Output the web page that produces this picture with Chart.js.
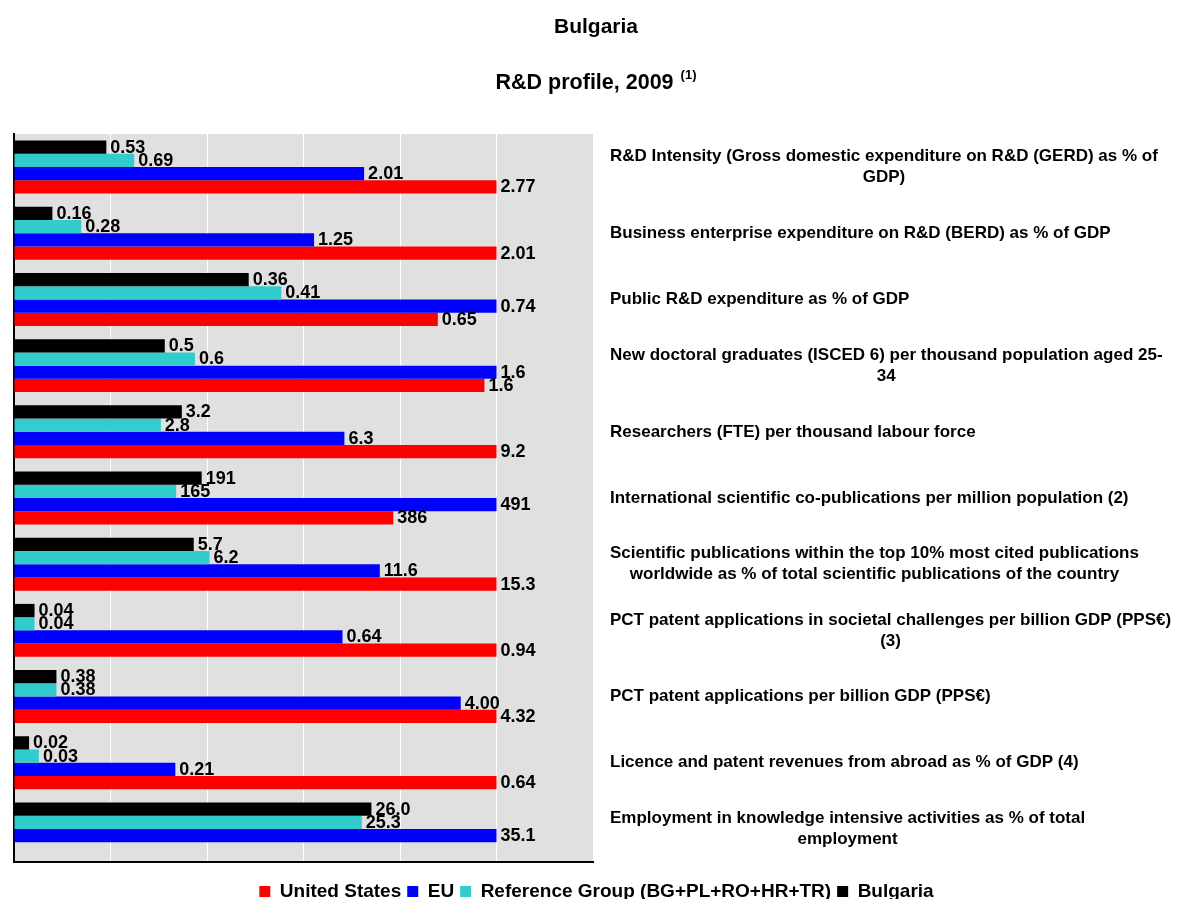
<!DOCTYPE html>
<html><head><meta charset="utf-8">
<script src="https://cdn.jsdelivr.net/npm/chart.js@4.4.1/dist/chart.umd.min.js"></script>
<style>html,body{margin:0;padding:0;background:#fff;}#wrap{width:1179px;height:899px;position:relative;}</style>
</head><body><div id="wrap"><canvas id="c"></canvas></div>
<script>
const categories = [
  ["R&D Intensity (Gross domestic expenditure on R&D (GERD) as % of", "GDP)"],
  ["Business enterprise expenditure on R&D (BERD) as % of GDP"],
  ["Public R&D expenditure as % of GDP"],
  ["New doctoral graduates (ISCED 6) per thousand population aged 25-", "34"],
  ["Researchers (FTE) per thousand labour force"],
  ["International scientific co-publications per million population (2)"],
  ["Scientific publications within the top 10% most cited publications", "worldwide as % of total scientific publications of the country"],
  ["PCT patent applications in societal challenges per billion GDP (PPS€)", "(3)"],
  ["PCT patent applications per billion GDP (PPS€)"],
  ["Licence and patent revenues from abroad as % of GDP (4)"],
  ["Employment in knowledge intensive activities as % of total", "employment"]
];
const usValues  = [2.77, 2.01, 0.65, 1.56, 9.2, 386, 15.3, 0.94, 4.32, 0.64, null];
const euValues  = [2.01, 1.25, 0.74, 1.6, 6.3, 491, 11.6, 0.64, 4.00, 0.214, 35.1];
const refValues = [0.69, 0.28, 0.41, 0.6, 2.8, 165, 6.2, 0.04, 0.38, 0.033, 25.3];
const bgValues  = [0.53, 0.16, 0.36, 0.5, 3.2, 191, 5.7, 0.04, 0.38, 0.02, 26.0];
const decimals  = [2, 2, 2, 1, 1, 0, 1, 2, 2, 2, 1];
const seriesNames = ["United States", "EU", "Reference Group (BG+PL+RO+HR+TR)", "Bulgaria"];
const titleText = "Bulgaria";
const subtitleText = "R&D profile, 2009";
const subtitleNote = "(1)";
const axisMax = 120;
const axisStep = 20;

const FONT = '"Liberation Sans", Arial, sans-serif';

// each indicator is shown relative to the highest of the four values (=100)
const groupMax = categories.map((_, i) =>
  Math.max(...[usValues[i], euValues[i], refValues[i], bgValues[i]].filter(v => v != null)));
const rel = arr => arr.map((v, i) => v == null ? null : v / groupMax[i] * 100);

const series = [
  {name: seriesNames[3], raw: bgValues,  color: '#000000'},
  {name: seriesNames[2], raw: refValues, color: '#33CCCC'},
  {name: seriesNames[1], raw: euValues,  color: '#0000FF'},
  {name: seriesNames[0], raw: usValues,  color: '#FF0000'}
];

const bgPlugin = {
  id: 'plotBg',
  beforeDraw(chart) {
    const {ctx, chartArea: a} = chart;
    ctx.save();
    ctx.fillStyle = '#E0E0E0';
    ctx.fillRect(a.left, a.top, a.right - a.left, a.bottom - a.top);
    ctx.restore();
  }
};

const valuePlugin = {
  id: 'valueLabels',
  afterDatasetsDraw(chart) {
    const ctx = chart.ctx;
    ctx.save();
    ctx.font = 'bold 18px ' + FONT;
    ctx.fillStyle = '#000';
    ctx.textAlign = 'left';
    ctx.textBaseline = 'middle';
    chart.data.datasets.forEach((ds, di) => {
      const meta = chart.getDatasetMeta(di);
      meta.data.forEach((el, i) => {
        const v = ds.rawValues[i];
        if (v == null) return;
        ctx.fillText(v.toFixed(decimals[i]), el.x + 4, el.y + 0.5);
      });
    });
    ctx.restore();
  }
};

const catLabelPlugin = {
  id: 'catLabels',
  afterDraw(chart) {
    const ctx = chart.ctx;
    const ys = chart.scales.y;
    const x0 = ys.left + 17;
    const lh = 21;
    ctx.save();
    ctx.font = 'bold 17px ' + FONT;
    ctx.fillStyle = '#000';
    ctx.textAlign = 'center';
    ctx.textBaseline = 'middle';
    categories.forEach((lines, i) => {
      const yc = ys.getPixelForValue(i);
      const w = Math.max(...lines.map(l => ctx.measureText(l).width));
      const cx = x0 + w / 2;
      const y0 = yc - (lines.length - 1) * lh / 2;
      lines.forEach((l, k) => ctx.fillText(l, cx, y0 + k * lh));
    });
    ctx.restore();
  }
};

const titlePlugin = {
  id: 'titles',
  afterDraw(chart) {
    const ctx = chart.ctx;
    const cx = 596;
    ctx.save();
    ctx.fillStyle = '#000';
    ctx.textBaseline = 'middle';
    ctx.textAlign = 'center';
    ctx.font = 'bold 21px ' + FONT;
    ctx.fillText(titleText, cx, 27);
    ctx.font = 'bold 21.5px ' + FONT;
    const w1 = ctx.measureText(subtitleText).width;
    ctx.font = 'bold 13px ' + FONT;
    const w2 = ctx.measureText(subtitleNote).width;
    const gap = 7;
    const start = cx - (w1 + gap + w2) / 2;
    ctx.textAlign = 'left';
    ctx.font = 'bold 21.5px ' + FONT;
    ctx.fillText(subtitleText, start, 83);
    ctx.font = 'bold 13px ' + FONT;
    ctx.fillText(subtitleNote, start + w1 + gap, 75);
    ctx.restore();
  }
};

new Chart(document.getElementById('c'), {
  type: 'bar',
  data: {
    labels: categories.map(c => c.join(' ')),
    datasets: series.map(s => ({
      label: s.name,
      data: rel(s.raw),
      rawValues: s.raw,
      backgroundColor: s.color,
      borderWidth: 0,
      categoryPercentage: 0.8,
      barPercentage: 1.0
    }))
  },
  options: {
    indexAxis: 'y',
    responsive: true,
    maintainAspectRatio: false,
    animation: false,
    devicePixelRatio: 1,
    layout: {padding: {top: 134, left: 14, right: 0, bottom: -12}},
    scales: {
      x: {
        type: 'linear', min: 0, max: axisMax,
        ticks: {display: false, stepSize: axisStep},
        grid: {color: '#FFFFFF', lineWidth: 1, drawTicks: false},
        border: {display: true, color: '#000', width: 2},
        afterFit(scale) { scale.height = 14; }
      },
      y: {
        type: 'category', position: 'right',
        ticks: {display: false},
        grid: {display: false, drawTicks: false},
        border: {display: false},
        afterFit(scale) { scale.width = 586; }
      },
      yl: {
        type: 'linear', position: 'left', axis: 'y', z: 1,
        ticks: {display: false},
        grid: {display: false, drawTicks: false},
        border: {display: true, color: '#000', width: 2}
      }
    },
    plugins: {
      legend: {
        position: 'bottom',
        reverse: true,
        labels: {
          color: '#000',
          font: {family: FONT, size: 19, weight: 'bold'},
          boxWidth: 11, boxHeight: 11, padding: 6
        }
      },
      title: {display: false},
      tooltip: {enabled: false}
    }
  },
  plugins: [bgPlugin, valuePlugin, catLabelPlugin, titlePlugin]
});
</script></body></html>
